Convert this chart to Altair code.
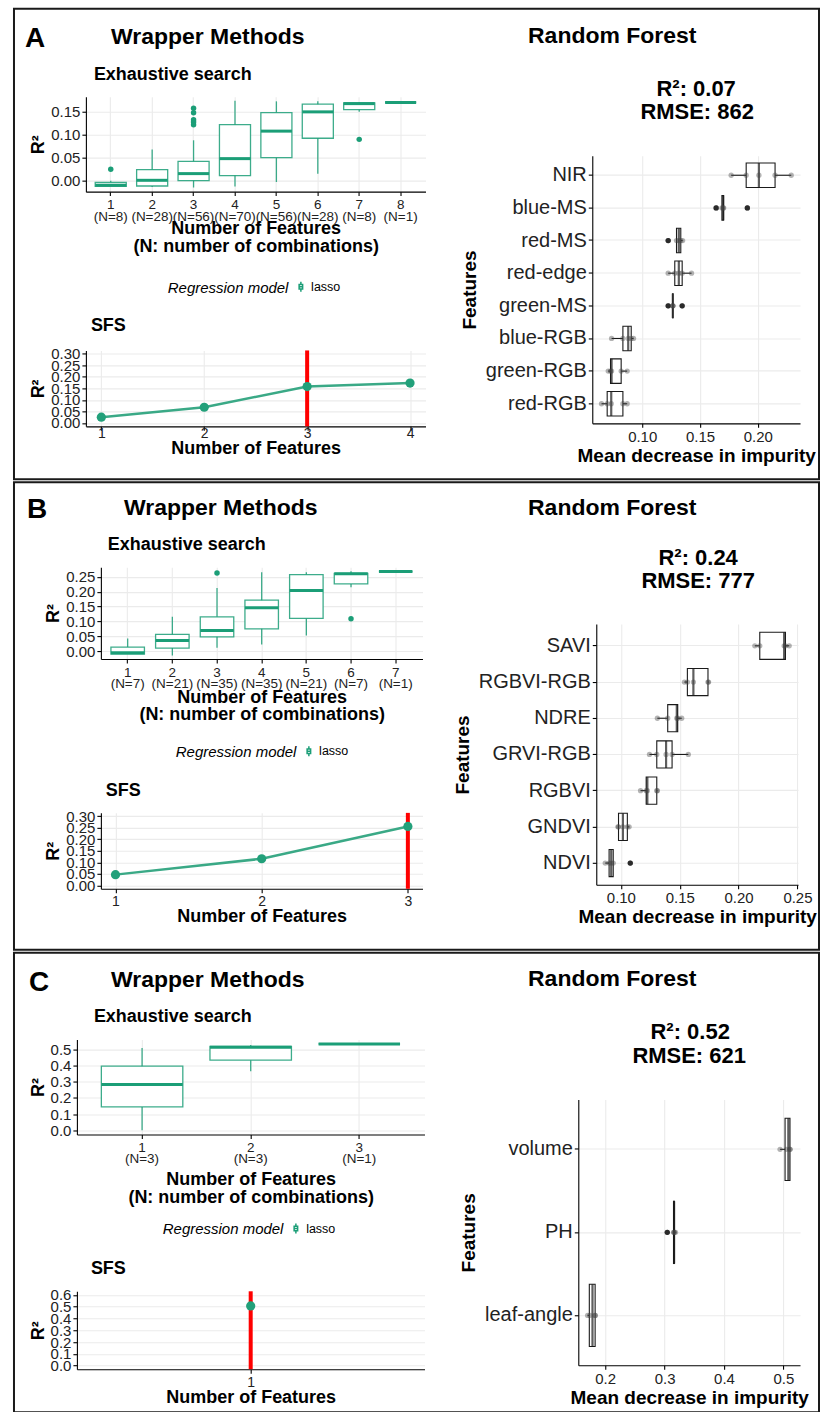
import altair as alt
import pandas as pd

FONT = "Liberation Sans"
GREEN = "#1b9e77"
INK = "#1a1a1a"

# ------------------------- Panel A -------------------------
a_nfeat = [1, 2, 3, 4, 5, 6, 7, 8]
a_ncomb = [8, 28, 56, 70, 56, 28, 8, 1]
a_low = [-0.012, -0.014, -0.015, -0.013, -0.003, 0.015, 0.150, 0.1705]
a_q1 = [-0.0124, -0.0117, 0.000, 0.011, 0.050, 0.0925, 0.155, 0.1705]
a_med = [-0.010, 0.0007, 0.0153, 0.048, 0.108, 0.150, 0.168, 0.1705]
a_q3 = [-0.0036, 0.024, 0.0422, 0.122, 0.1485, 0.1667, 0.1697, 0.1705]
a_high = [0.000, 0.068, 0.088, 0.174, 0.173, 0.173, 0.171, 0.1705]
a_out_group = [1, 3, 3, 3, 3, 3, 7]
a_out_val = [0.0248, 0.158, 0.148, 0.133, 0.128, 0.122, 0.090]
a_sfs_n = [1, 2, 3, 4]
a_sfs_r2 = [0.025, 0.068, 0.158, 0.173]
a_sfs_best = 3
a_rf_feats = ["NIR", "blue-MS", "red-MS", "red-edge", "green-MS", "blue-RGB", "green-RGB", "red-RGB"]
a_rf_vals = [
    [0.177, 0.190, 0.201, 0.215, 0.229],
    [0.164, 0.169, 0.170, 0.1705, 0.191],
    [0.1225, 0.1297, 0.1317, 0.1334, 0.135],
    [0.1225, 0.1282, 0.1317, 0.1346, 0.1427],
    [0.1225, 0.1265, 0.1265, 0.1266, 0.1346],
    [0.0735, 0.0833, 0.0879, 0.0905, 0.0925],
    [0.0706, 0.0726, 0.0735, 0.0818, 0.087],
    [0.0648, 0.0697, 0.0732, 0.0833, 0.087],
]
a_r2_text = "R²: 0.07"
a_rmse_text = "RMSE: 862"

# ------------------------- Panel B -------------------------
b_nfeat = [1, 2, 3, 4, 5, 6, 7]
b_ncomb = [7, 21, 35, 35, 21, 7, 1]
b_low = [-0.010, -0.0146, 0.011, 0.0224, 0.0527, 0.215, 0.268]
b_q1 = [-0.010, 0.010, 0.048, 0.075, 0.110, 0.2265, 0.268]
b_med = [-0.0056, 0.036, 0.0695, 0.146, 0.204, 0.261, 0.268]
b_q3 = [0.0135, 0.056, 0.1155, 0.1715, 0.258, 0.262, 0.268]
b_high = [0.0426, 0.1155, 0.213, 0.2657, 0.2657, 0.269, 0.268]
b_out_group = [3, 6]
b_out_val = [0.263, 0.109]
b_sfs_n = [1, 2, 3]
b_sfs_r2 = [0.0465, 0.1155, 0.256]
b_sfs_best = 3
b_rf_feats = ["SAVI", "RGBVI-RGB", "NDRE", "GRVI-RGB", "RGBVI", "GNDVI", "NDVI"]
b_rf_vals = [
    [0.2138, 0.218, 0.2387, 0.2398, 0.243],
    [0.154, 0.1565, 0.1616, 0.174, 0.1745],
    [0.131, 0.1398, 0.1475, 0.1483, 0.1517],
    [0.1243, 0.1305, 0.1384, 0.1435, 0.1573],
    [0.1167, 0.1215, 0.1225, 0.1305, 0.131],
    [0.0975, 0.098, 0.1017, 0.1055, 0.107],
    [0.0867, 0.090, 0.0918, 0.0935, 0.108],
]
b_r2_text = "R²: 0.24"
b_rmse_text = "RMSE: 777"

# ------------------------- Panel C -------------------------
c_nfeat = [1, 2, 3]
c_ncomb = [3, 3, 1]
c_low = [0.0, 0.366, 0.535]
c_q1 = [0.144, 0.434, 0.535]
c_med = [0.284, 0.514, 0.535]
c_q3 = [0.397, 0.520, 0.535]
c_high = [0.510, 0.529, 0.535]
c_out_group = []
c_out_val = []
c_sfs_n = [1]
c_sfs_r2 = [0.5056]
c_sfs_best = 1
c_rf_feats = ["volume", "PH", "leaf-angle"]
c_rf_vals = [
    [0.4944, 0.5056, 0.5110, 0.5113],
    [0.3045, 0.3150, 0.3160, 0.3165, 0.3184],
    [0.1704, 0.1742, 0.1830, 0.1832],
]
c_r2_text = "R²: 0.52"
c_rmse_text = "RMSE: 621"

ONE = pd.DataFrame({"k": [0]})
W0 = 424          # width of the left column cells
W1 = 374          # width of the right column cells
BOX_PATH = ("M-0.35,-0.45L0.35,-0.45L0.35,0.45L-0.35,0.45Z "
            "M0,-1L0,-0.45 M0,0.45L0,1 M-0.35,0L0.35,0")


def spacer(w, h, layers=()):
    base = alt.Chart(ONE).mark_point(opacity=0).encode(x=alt.value(0), y=alt.value(0))
    if layers:
        return alt.layer(base, *layers).properties(width=w, height=h)
    return base.properties(width=w, height=h)


def txt(s, x, y, size, align="left", weight="bold"):
    return alt.Chart(ONE).mark_text(
        text=s, fontSize=size, fontWeight=weight, align=align,
        baseline="middle", color="black", font=FONT
    ).encode(x=alt.value(x), y=alt.value(y))


def border(x1, y1, x2, y2):
    return alt.Chart(ONE).mark_rect(fillOpacity=0, stroke=INK, strokeWidth=2).encode(
        x=alt.value(x1), x2=alt.value(x2), y=alt.value(y1), y2=alt.value(y2))


def decor(h, box, letter, lpos, wm, rf, es, sfs, r2, rmse):
    layers = [
        border(*box),
        txt(letter, lpos[0], lpos[1], 28),
        txt("Wrapper Methods", wm[0], wm[1], 23, align="center"),
        txt("Random Forest", rf[0], rf[1], 23, align="center"),
        txt("Exhaustive search", es[0], es[1], 18),
        txt("SFS", sfs[0], sfs[1], 18),
        txt(r2[0], r2[1], r2[2], 22, align="center"),
        txt(rmse[0], rmse[1], rmse[2], 22, align="center"),
    ]
    return spacer(1, h, layers)


def y_axis(xoff, ticks, fmt):
    return alt.Axis(title="R²", values=ticks, format=fmt, offset=-xoff,
                    labelFontSize=15, titleFontSize=18, titleFontWeight="bold",
                    labelOverlap=False, labelFlush=False, grid=True, titlePadding=3)


def exh_chart(nfeat, ncomb, low, q1, med, q3, high, og, ov, xr, h, ydom, yticks, yfmt, leg, tpad):
    cats = [f"{n}|(N={c})" for n, c in zip(nfeat, ncomb)]
    df = pd.DataFrame(dict(cat=cats, low=low, q1=q1, med=med, q3=q3, high=high,
                           model=["lasso"] * len(cats)))
    odf = pd.DataFrame(dict(cat=[cats[g - 1] for g in og], v=ov))
    n = len(cats)
    bw = 0.75 * (xr[1] - xr[0]) / (n + 0.2)
    xs = alt.Scale(type="band", domain=cats, range=list(xr), paddingInner=0.25, paddingOuter=0.225)
    ys = alt.Scale(domain=ydom, nice=False, zero=False)
    xax = alt.Axis(title=["Number of Features", "(N: number of combinations)"],
                   labelExpr="split(datum.label, '|')", labelAngle=0, labelFontSize=13.5,
                   labelLineHeight=11.5, labelPadding=2, titleFontSize=18, titleFontWeight="bold",
                   titleLineHeight=18, titlePadding=tpad, grid=True)
    yax = y_axis(xr[0], yticks, yfmt)
    X = alt.X("cat:N", scale=xs, axis=xax)
    whisk = alt.Chart(df).mark_rule(color=GREEN, strokeWidth=1.3, opacity=0.85).encode(
        x=X, y=alt.Y("low:Q", scale=ys, axis=yax), y2="high:Q")
    box = alt.Chart(df).mark_bar(fill="white", strokeWidth=1.3, strokeOpacity=0.85).encode(
        x=X, y=alt.Y("q1:Q", scale=ys, axis=yax), y2="q3:Q",
        stroke=alt.Stroke("model:N", scale=alt.Scale(domain=["lasso"], range=[GREEN]),
                          legend=alt.Legend(orient="none", legendX=leg[0], legendY=leg[1],
                                            direction="horizontal", title="Regression model",
                                            titleOrient="left", titleFontStyle="italic",
                                            titleFontWeight="normal", titleFontSize=15,
                                            titleColor="black", titlePadding=6,
                                            labelFontSize=12.5, labelColor="black",
                                            symbolType=BOX_PATH, symbolSize=100,
                                            symbolStrokeWidth=1.5, symbolFillColor="white")))
    medt = alt.Chart(df).mark_tick(color=GREEN, thickness=3, size=bw, opacity=1).encode(
        x=X, y=alt.Y("med:Q", scale=ys, axis=yax))
    layers = [whisk, box, medt]
    if len(ov):
        layers.append(alt.Chart(odf).mark_circle(color=GREEN, size=30, opacity=1).encode(
            x=X, y=alt.Y("v:Q", scale=ys, axis=yax)))
    return alt.layer(*layers).properties(width=W0, height=h)


def sfs_chart(ns, r2, best, xr, h, xdom, xticks, ydom, yticks, yfmt, lpad):
    df = pd.DataFrame(dict(n=ns, r2=r2))
    bdf = pd.DataFrame(dict(n=[best]))
    xs = alt.Scale(domain=xdom, range=list(xr), nice=False, zero=False)
    ys = alt.Scale(domain=ydom, nice=False, zero=False)
    xax = alt.Axis(title="Number of Features", values=xticks, format="d", labelFontSize=14,
                   titleFontSize=18, titleFontWeight="bold", grid=True, labelFlush=False,
                   labelOverlap=False, labelPadding=lpad, titlePadding=-1)
    X = alt.X("n:Q", scale=xs, axis=xax)
    Y = alt.Y("r2:Q", scale=ys, axis=y_axis(xr[0], yticks, yfmt))
    red = alt.Chart(bdf).mark_rule(color="#ff0000", strokeWidth=4).encode(
        x=X, y=alt.value(0), y2=alt.value(h))
    line = alt.Chart(df).mark_line(color="#3aa986", strokeWidth=2.5).encode(x=X, y=Y)
    pts = alt.Chart(df).mark_circle(color="#22a07a", size=85, opacity=1).encode(x=X, y=Y)
    return alt.layer(red, line, pts).properties(width=W0, height=h)


def rf_chart(feats, vals, xr, h, xdom, xticks, xfmt):
    rows = [(f, v) for f, vs in zip(feats, vals) for v in vs]
    df = pd.DataFrame(rows, columns=["feat", "imp"])
    size = 0.75 * h / (len(feats) + 0.2)
    xs = alt.Scale(domain=xdom, range=list(xr), nice=False, zero=False)
    ys = alt.Scale(type="band", domain=feats, paddingInner=0.25, paddingOuter=0.225)
    X = alt.X("imp:Q", scale=xs, axis=alt.Axis(
        title="Mean decrease in impurity", values=xticks, format=xfmt, labelFontSize=15,
        titleFontSize=19, titleFontWeight="bold", grid=True, labelFlush=False,
        labelOverlap=False, titlePadding=2))
    Y = alt.Y("feat:N", scale=ys, axis=alt.Axis(
        title="Features", offset=-xr[0], labelFontSize=20, titleFontSize=19,
        titleFontWeight="bold", grid=True, labelPadding=2, titlePadding=6))
    box = alt.Chart(df).mark_boxplot(
        extent=1.5, size=size, ticks=False, color=INK,
        box={"fill": "white", "stroke": INK, "strokeWidth": 1.1},
        median={"color": INK, "thickness": 2.2},
        rule={"color": INK, "strokeWidth": 1.1},
        outliers={"color": INK, "size": 28, "filled": True, "opacity": 1},
    ).encode(x=X, y=Y)
    pts = alt.Chart(df).mark_circle(color="#444444", opacity=0.4, size=28).encode(x=X, y=Y)
    return alt.layer(box, pts).properties(width=W1, height=h)


# ------------------------- layout -------------------------
col0 = [
    decor(93, (11, 5, 817, 476), "A", (22, 35), (205, 33), (610, 32), (91, 71), (88, 323),
          (a_r2_text, 694, 85), (a_rmse_text, 695, 108)),
    exh_chart(a_nfeat, a_ncomb, a_low, a_q1, a_med, a_q3, a_high, a_out_group, a_out_val,
              (83, 423), 95, [-0.024, 0.183], [0, 0.05, 0.10, 0.15], ".2f", (165, 184), -3),
    spacer(1, 159),
    sfs_chart(a_sfs_n, a_sfs_r2, a_sfs_best, (83, 423), 76, [0.85, 4.15], [1, 2, 3, 4],
              [-0.015, 0.315], [0, 0.05, 0.10, 0.15, 0.20, 0.25, 0.30], ".2f", -4),
    spacer(1, 55),
    decor(86, (11, 1, 817, 469), "B", (24, 29), (218, 27), (610, 27), (105, 64), (103, 310),
          (b_r2_text, 696, 77), (b_rmse_text, 696, 100)),
    exh_chart(b_nfeat, b_ncomb, b_low, b_q1, b_med, b_q3, b_high, b_out_group, b_out_val,
              (98, 420), 92, [-0.027, 0.283], [0, 0.05, 0.10, 0.15, 0.20, 0.25], ".2f",
              (173, 178), -2),
    spacer(1, 154),
    sfs_chart(b_sfs_n, b_sfs_r2, b_sfs_best, (98, 420), 76, [0.9, 3.1], [1, 2, 3],
              [-0.015, 0.315], [0, 0.05, 0.10, 0.15, 0.20, 0.25, 0.30], ".2f", 2),
    spacer(1, 62),
    decor(89, (11, 2, 817, 462), "C", (26, 32), (205, 29), (610, 28), (91, 66), (88, 319),
          (c_r2_text, 688, 81), (c_rmse_text, 687, 105)),
    exh_chart(c_nfeat, c_ncomb, c_low, c_q1, c_med, c_q3, c_high, c_out_group, c_out_val,
              (74, 422), 95, [-0.027, 0.562], [0, 0.1, 0.2, 0.3, 0.4, 0.5], ".1f",
              (160, 183), 5),
    spacer(1, 157),
    sfs_chart(c_sfs_n, c_sfs_r2, c_sfs_best, (74, 422), 78, [0.4, 1.6], [1],
              [-0.03, 0.63], [0, 0.1, 0.2, 0.3, 0.4, 0.5, 0.6], ".1f", 2),
    spacer(1, 45),
]

col1 = [
    spacer(1, 152),
    rf_chart(a_rf_feats, a_rf_vals, (166, 374), 268, [0.0568, 0.2366], [0.10, 0.15, 0.20], ".2f"),
    spacer(1, 201),
    rf_chart(b_rf_feats, b_rf_vals, (170, 372), 261, [0.0791, 0.2505], [0.10, 0.15, 0.20, 0.25], ".2f"),
    spacer(1, 215),
    rf_chart(c_rf_feats, c_rf_vals, (152, 374), 266, [0.1547, 0.528], [0.2, 0.3, 0.4, 0.5], ".1f"),
    spacer(1, 49),
]

left = alt.vconcat(*col0, spacing=0, bounds="flush").resolve_scale(
    stroke="independent").resolve_legend(stroke="independent")
right = alt.vconcat(*col1, spacing=0, bounds="flush")

chart = alt.hconcat(left, right, spacing=W0, bounds="flush").resolve_scale(
    stroke="independent").resolve_legend(stroke="independent").properties(
    padding=0
).configure(font=FONT).configure_view(strokeWidth=0).configure_axis(
    domainColor="black", domainWidth=1.1, tickColor="black", tickSize=4, tickWidth=1.1,
    gridColor="#ebebeb", gridWidth=1.1, labelColor="#222222", titleColor="black",
    labelFont=FONT, titleFont=FONT,
)

chart.save("out.html", embed_options={"renderer": "svg", "actions": False})
